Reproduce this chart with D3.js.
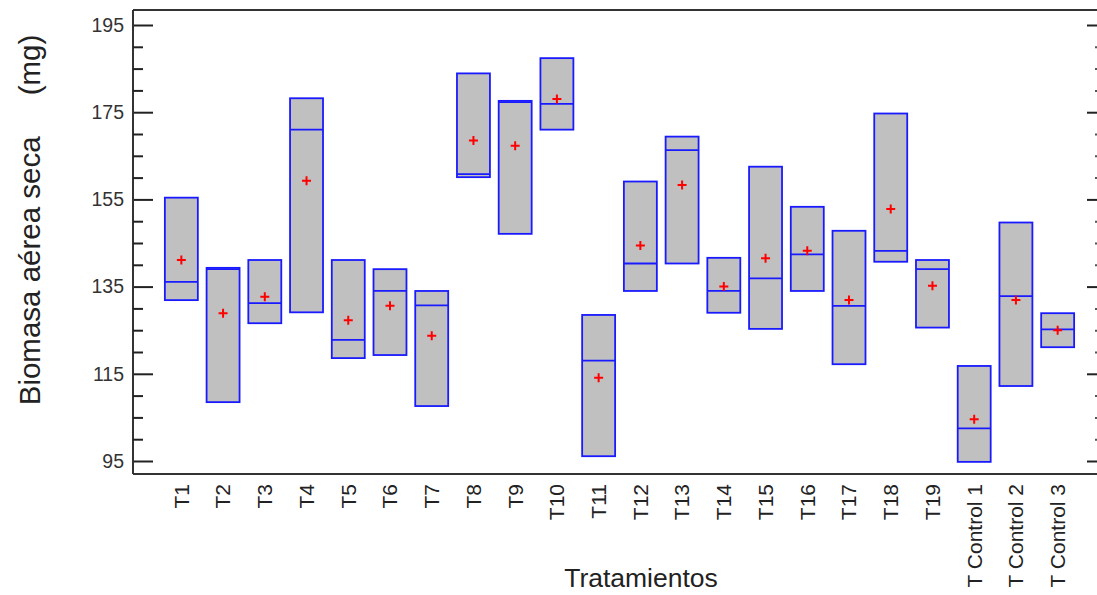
<!DOCTYPE html>
<html><head><meta charset="utf-8">
<script src="https://cdn.jsdelivr.net/npm/d3@7"></script>
<style>
body{margin:0;background:#fff;}
svg{display:block;font-family:"Liberation Sans",Arial,sans-serif;}
</style></head>
<body><svg id="chart" width="1097" height="595"></svg>
<script>
const categories = ["T1","T2","T3","T4","T5","T6","T7","T8","T9","T10","T11","T12","T13","T14","T15","T16","T17","T18","T19","T Control 1","T Control 2","T Control 3"];
const boxTop    = [155.4,139.3,141.1,178.2,141.1,139.0,134.0,183.9,177.6,187.4,128.5,159.1,169.4,141.6,162.5,153.3,147.8,174.7,141.1,116.8,149.7,128.9];
const boxMedian = [136.1,139.0,131.2,171.0,122.8,134.0,130.7,160.8,177.3,176.9,118.0,140.3,166.3,134.0,136.9,142.4,130.6,143.2,139.0,102.5,132.8,125.2];
const boxBottom = [131.9,108.5,126.6,129.1,118.6,119.3,107.6,160.1,147.1,171.0,96.1,134.0,140.3,129.0,125.3,134.0,117.2,140.7,125.6,94.8,112.2,121.1];
const means     = [141.1,128.9,132.7,159.3,127.3,130.6,123.7,168.5,167.3,178.0,114.1,144.4,158.3,135.0,141.5,143.2,131.9,152.8,135.2,104.6,131.9,125.0];
const yMajorTicks = [95,115,135,155,175,195];
const yMinorTicks = [100,105,110,120,125,130,140,145,150,160,165,170,180,185,190];

const svg = d3.select("#chart");
const mLeft = 133, mRight = 1097, mTop = 10, mBottom = 474;

const x = d3.scaleBand().domain(categories).range([144, 1095]).paddingInner(0.21).paddingOuter(0.5);
const y = d3.scaleLinear().domain([95,195]).range([461,25]);

// boxes
const data = categories.map((c,i)=>({c, t:boxTop[i], m:boxMedian[i], b:boxBottom[i], mean:means[i]}));
const g = svg.append("g");
g.selectAll("rect.box").data(data).join("rect").attr("class","box")
  .attr("x", d=>x(d.c)).attr("width", x.bandwidth())
  .attr("y", d=>y(d.t)).attr("height", d=>y(d.b)-y(d.t))
  .attr("fill","#c0c0c0").attr("stroke","#1a1aff").attr("stroke-width",1.8);
g.selectAll("line.med").data(data).join("line").attr("class","med")
  .attr("x1", d=>x(d.c)).attr("x2", d=>x(d.c)+x.bandwidth())
  .attr("y1", d=>y(d.m)).attr("y2", d=>y(d.m))
  .attr("stroke","#1a1aff").attr("stroke-width",1.8);
const cx = d=>x(d.c)+x.bandwidth()/2;
g.selectAll("path.mean").data(data).join("path").attr("class","mean")
  .attr("d", d=>`M${cx(d)-4.5},${y(d.mean)}h9M${cx(d)},${y(d.mean)-4.5}v9`)
  .attr("stroke","#ff0000").attr("stroke-width",2).attr("fill","none");

// frame lines
svg.append("line").attr("x1",mLeft).attr("x2",mRight).attr("y1",mTop).attr("y2",mTop).attr("stroke","#333").attr("stroke-width",2);
svg.append("line").attr("x1",mLeft).attr("x2",mRight).attr("y1",mBottom).attr("y2",mBottom).attr("stroke","#333").attr("stroke-width",2);

// left axis
const la = svg.append("g").attr("transform",`translate(${mLeft},0)`)
  .call(d3.axisLeft(y).tickValues(yMajorTicks).tickSizeInner(-20).tickSizeOuter(0).tickPadding(9));
la.select(".domain").remove();
svg.append("line").attr("x1",mLeft).attr("x2",mLeft).attr("y1",mTop).attr("y2",mBottom).attr("stroke","#333").attr("stroke-width",2);
la.selectAll("line").attr("stroke","#222").attr("stroke-width",2);
la.selectAll("text").attr("font-size",19.5).attr("fill","#333").attr("font-family","Liberation Sans, Arial, sans-serif");
const lm = svg.append("g").attr("transform",`translate(${mLeft},0)`)
  .call(d3.axisLeft(y).tickValues(yMinorTicks).tickSize(-10).tickFormat(""));
lm.select(".domain").remove();
lm.selectAll("line").attr("stroke","#222").attr("stroke-width",2);

// right axis ticks
const ra = svg.append("g").attr("transform",`translate(${mRight},0)`)
  .call(d3.axisRight(y).tickValues(yMajorTicks).tickSize(-10).tickFormat(""));
ra.select(".domain").remove();
ra.selectAll("line").attr("stroke","#222").attr("stroke-width",2);
const rm = svg.append("g").attr("transform",`translate(${mRight},0)`)
  .call(d3.axisRight(y).tickValues(yMinorTicks).tickSize(-2).tickFormat(""));
rm.select(".domain").remove();
rm.selectAll("line").attr("stroke","#555").attr("stroke-width",2);

// bottom axis labels
const ba = svg.append("g").attr("transform",`translate(0,${mBottom})`)
  .call(d3.axisBottom(x).tickSize(0).tickPadding(0));
ba.select(".domain").remove();
ba.selectAll("text")
  .attr("transform","rotate(-90)")
  .attr("x",-10).attr("y",0).attr("dy","0.35em")
  .attr("text-anchor","end")
  .attr("font-size",21).attr("fill","#222").attr("font-family","Liberation Sans, Arial, sans-serif");

// titles
svg.append("text").attr("x",641).attr("y",587).attr("text-anchor","middle")
  .attr("font-size",26.5).attr("fill","#222").text("Tratamientos");
svg.append("text").attr("transform","translate(40,220) rotate(-90)")
  .attr("text-anchor","middle").attr("font-size",29.5).attr("fill","#222")
  .style("white-space","pre").text("Biomasa aérea seca     (mg)");
</script></body></html>
